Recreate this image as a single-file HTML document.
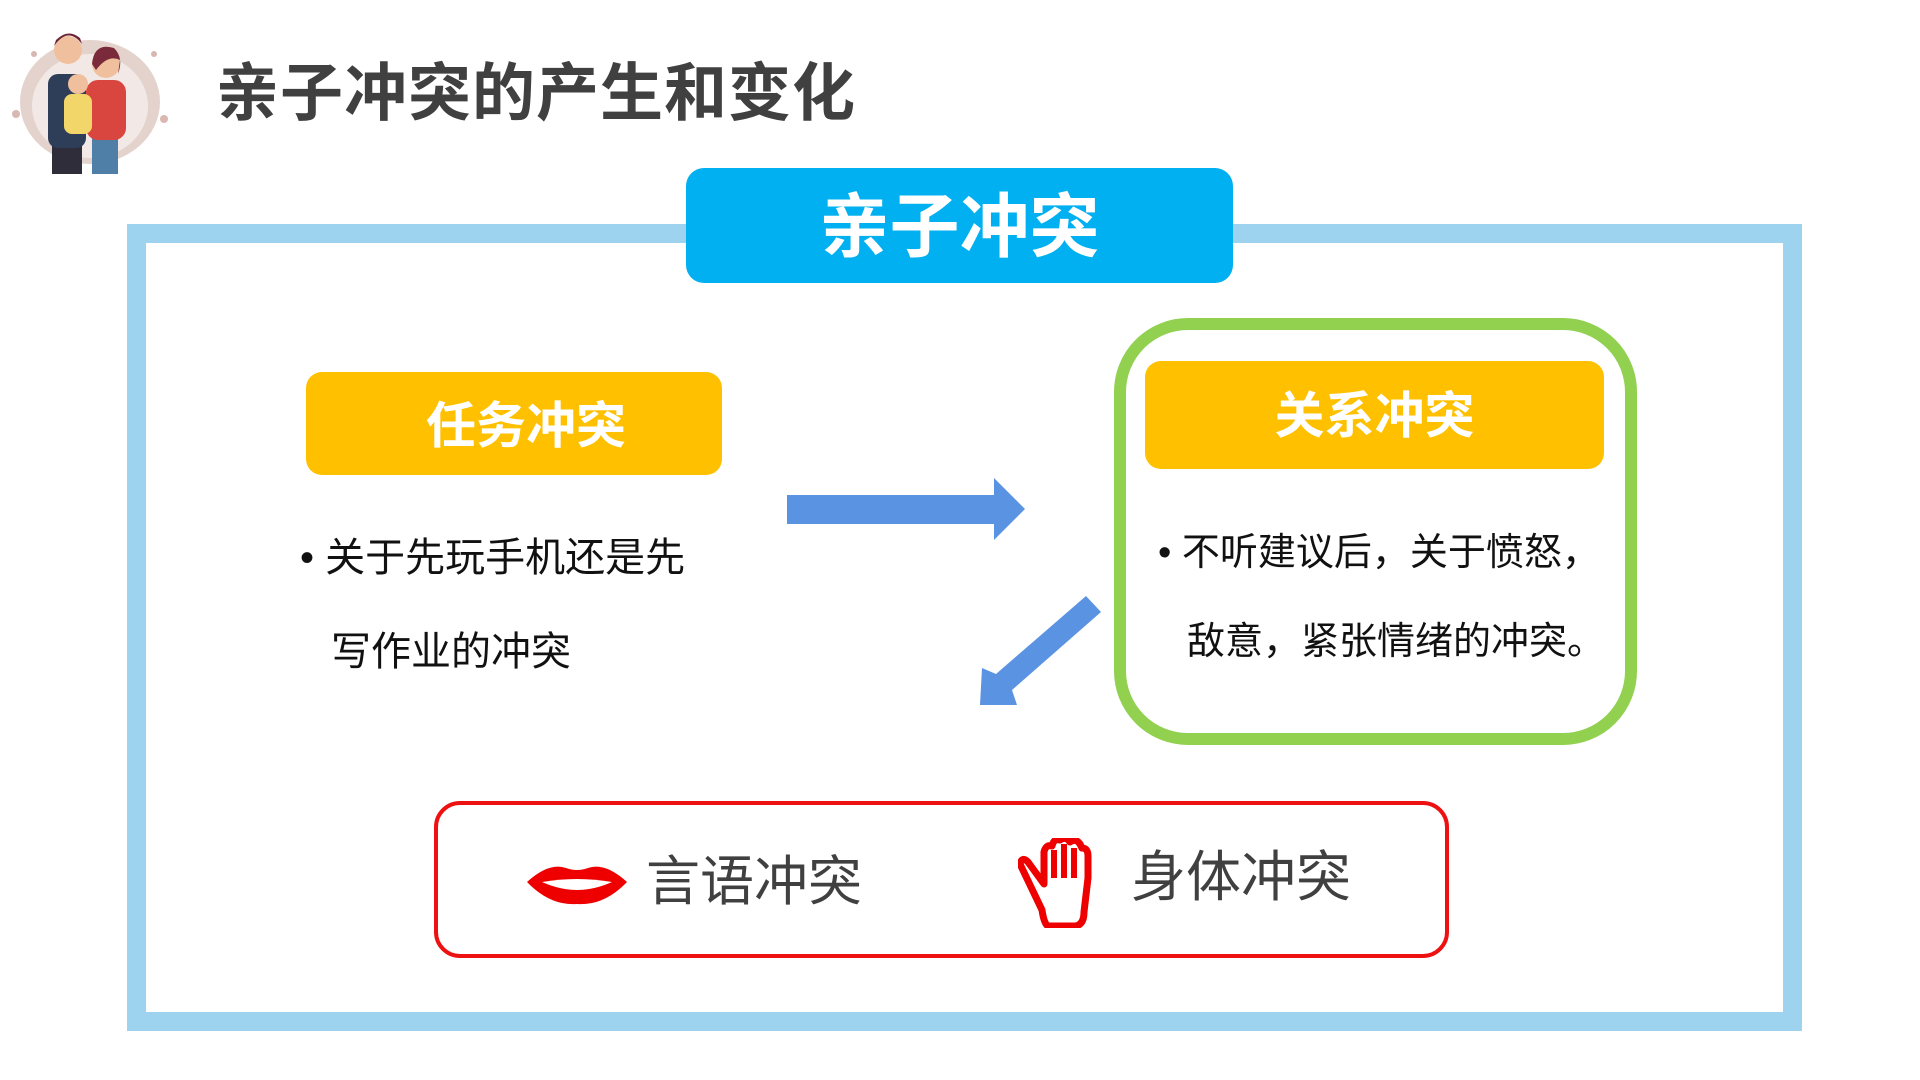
<!DOCTYPE html>
<html><head><meta charset="utf-8"><style>
body{margin:0;width:1920px;height:1080px;background:#fff;position:relative;overflow:hidden;font-family:"Liberation Sans","Noto Sans CJK SC",sans-serif}
.a{position:absolute}
.c{display:flex;align-items:center;justify-content:center}
</style></head><body>
<svg class="a" style="left:4px;top:24px" width="172" height="152" viewBox="0 0 172 152">
<ellipse cx="86" cy="78" rx="70" ry="62" fill="#e4d3cc"/>
<ellipse cx="86" cy="82" rx="58" ry="52" fill="#fff" opacity=".5"/>
<circle cx="12" cy="90" r="4" fill="#d8b8b0"/><circle cx="160" cy="95" r="4" fill="#d8b8b0"/><circle cx="30" cy="30" r="3" fill="#d8b8b0"/><circle cx="150" cy="30" r="3" fill="#d8b8b0"/>
<rect x="48" y="120" width="30" height="30" fill="#2f2d3a"/><rect x="88" y="110" width="26" height="40" fill="#4f7fa6"/>
<rect x="44" y="50" width="38" height="74" rx="10" fill="#2f3e58"/>
<rect x="82" y="56" width="40" height="60" rx="12" fill="#d9463f"/>
<rect x="60" y="70" width="28" height="40" rx="8" fill="#f3d66a"/>
<circle cx="64" cy="26" r="14" fill="#f0c09e"/><path d="M50 22 Q64 2 78 20 L76 14 Q64 4 52 16Z" fill="#6a2436"/>
<circle cx="102" cy="40" r="14" fill="#f0c09e"/><path d="M88 40 Q90 18 110 24 Q120 34 114 50 L116 36 Q104 30 92 46Z" fill="#7a2a3a"/>
<circle cx="74" cy="60" r="10" fill="#f0c09e"/>
</svg>
<div class="a" style="left:216px;top:56px;font-size:63px;font-weight:bold;color:#404040;line-height:76px;letter-spacing:1px">亲子冲突的产生和变化</div>

<div class="a" style="left:127px;top:224px;width:1637px;height:769px;border:19px solid #9dd3ee"></div>
<div class="a c" style="left:686px;top:168px;width:547px;height:115px;background:#00b0f0;border-radius:18px;color:#fff;font-size:70px;font-weight:bold;padding-bottom:8px;box-sizing:border-box">亲子冲突</div>

<div class="a c" style="left:318px;top:372px;width:416px;height:103px;background:transparent;color:#fff;font-size:50px;font-weight:bold;z-index:2;padding-bottom:4px;box-sizing:border-box">任务冲突</div>
<div class="a" style="left:306px;top:372px;width:416px;height:103px;background:#ffc000;border-radius:16px"></div>
<div class="a" style="left:300px;top:511px;font-size:40px;color:#111;line-height:94px">• 关于先玩手机还是先<br><span style="padding-left:31px">写作业的冲突</span></div>

<div class="a" style="left:1114px;top:318px;width:499px;height:403px;border:12px solid #92d050;border-radius:74px"></div>
<div class="a c" style="left:1145px;top:361px;width:459px;height:108px;background:#ffc000;border-radius:16px;color:#fff;font-size:50px;font-weight:bold;padding-bottom:6px;box-sizing:border-box">关系冲突</div>
<div class="a" style="left:1158px;top:509px;font-size:38px;color:#111;line-height:89px;white-space:nowrap">• 不听建议后，关于愤怒，<br><span style="padding-left:29px">敌意，紧张情绪的冲突。</span></div>

<svg class="a" style="left:0;top:0" width="1920" height="1080">
<polygon points="787,495 994,495 994,478 1025,509 994,540 994,524 787,524" fill="#5b93e3"/>
<polygon points="1086,596 1101,612 1012,690 1017,705 980,705 982,668 996,674" fill="#5b93e3"/>
</svg>

<div class="a" style="left:434px;top:801px;width:1007px;height:149px;border:4px solid #ee1111;border-radius:26px"></div>
<svg class="a" style="left:524px;top:860px" width="106" height="46" viewBox="0 0 106 46">
<path d="M3 22 Q25 2 42 8 Q53 12 64 8 Q81 2 103 22 Q80 46 53 44 Q26 46 3 22Z" fill="#e00"/>
<path d="M18 22 Q53 16 88 22 Q70 30 53 30 Q36 30 18 22Z" fill="#fff"/>
</svg>
<div class="a" style="left:646px;top:850px;font-size:54px;color:#404040;line-height:64px">言语冲突</div>
<svg class="a" style="left:1018px;top:838px" width="84" height="90" viewBox="0 0 84 90">
<path d="M30 88 L58 88 Q66 86 66 74 L70 40 L70 18 Q70 10 64 10 L62 6 Q58 0 52 4 Q48 -2 42 2 Q36 0 34 8 Q28 6 26 14 L26 46 L10 24 Q4 18 2 26 L24 72 Q26 86 30 88Z" fill="none" stroke="#e00" stroke-width="7" stroke-linejoin="round"/>
<path d="M36 12 V40 M46 6 V40 M56 10 V40" stroke="#e00" stroke-width="6"/>
</svg>
<div class="a" style="left:1131px;top:845px;font-size:55px;color:#404040;line-height:64px">身体冲突</div>
</body></html>
